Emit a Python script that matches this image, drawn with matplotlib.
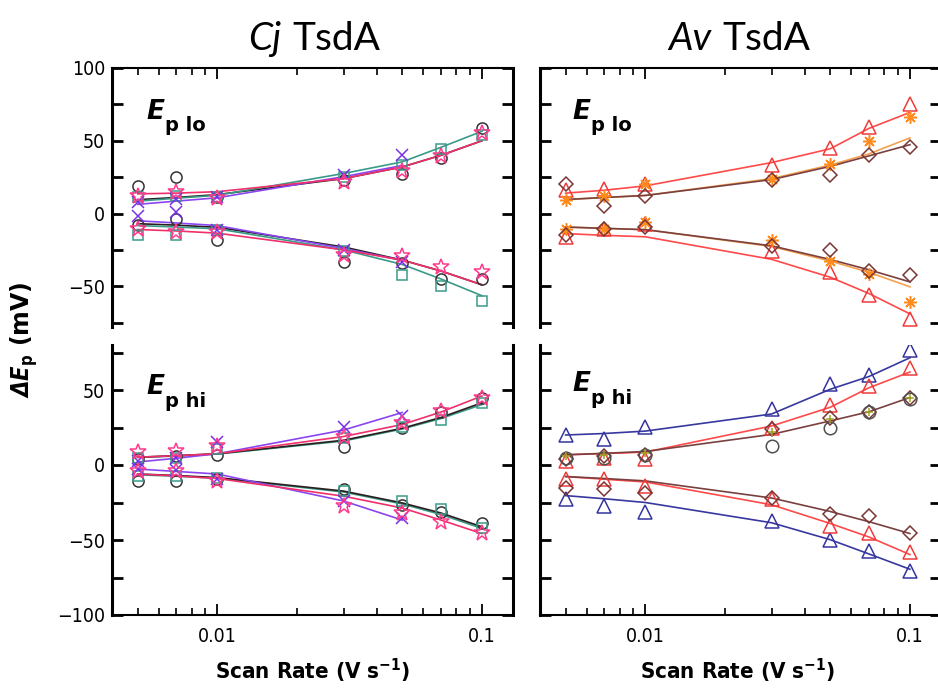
import numpy as np
import matplotlib.pyplot as plt
from matplotlib.ticker import FixedLocator, LogLocator, NullFormatter, FixedFormatter

nan = np.nan

# scan rates (V/s), shared by every series
rate = [0.005, 0.007, 0.01, 0.03, 0.05, 0.07, 0.1]

# ---------------------------------------------------------------------------
# Cj TsdA, Ep lo  (upper = oxidative peak, lower = reductive peak), mV
# ---------------------------------------------------------------------------
cj_lo_circle_up = [19, 25, 11, 23, 27, 38, 59]
cj_lo_circle_dn = [-8, -4, -18.5, -33, -34, -45, -45]
cj_lo_cross_up = [8, 10, 11, 26.5, 40, nan, nan]
cj_lo_cross_dn = [-2, 1, -11.5, -25, -33, nan, nan]
cj_lo_square_up = [11, 12, 11, 25, 33.5, 44, 54]
cj_lo_square_dn = [-15, -15, -11, -26, -42, -50, -60]
cj_lo_star_up = [12, 15, 10.5, 21.5, 29, 39.5, 55]
cj_lo_star_dn = [-10.5, -12.5, -13, -28.5, -29.5, -36.5, -40]

cj_lo_fit_dark_up = [9.5, 11, 13, 24, 32, 40, 50]
cj_lo_fit_dark_dn = [-7, -8, -9.5, -23, -32, -39.5, -49]
cj_lo_fit_purple_up = [6.3, 8.5, 10.8, 25.3, 33, nan, nan]
cj_lo_fit_purple_dn = [-5, -6.5, -8.3, -24, -32.3, nan, nan]
cj_lo_fit_teal_up = [8.5, 10.5, 12.5, 27.5, 35.5, 45.5, 56.5]
cj_lo_fit_teal_dn = [-8.3, -9.3, -10.5, -25, -35, -45, -56.5]
cj_lo_fit_pink_up = [13.5, 14, 15, 24, 32, 40, 50]
cj_lo_fit_pink_dn = [-11, -12, -13.5, -25, -32, -39.5, -49]

# ---------------------------------------------------------------------------
# Cj TsdA, Ep hi
# ---------------------------------------------------------------------------
cj_hi_circle_up = [4, 6, 7, 12, 24.5, 35.5, 44.5]
cj_hi_circle_dn = [-10.5, -10.5, -9.5, -16.3, -26.5, -31, -38.5]
cj_hi_cross_up = [3, 5, 15.5, 25.5, 33, nan, nan]
cj_hi_cross_dn = [-2.7, -3.5, -9.5, -24, -35.5, nan, nan]
cj_hi_square_up = [5, 5, 11, 18, 25.5, 30, 41.5]
cj_hi_square_dn = [-7, -7, -8.5, -17.5, -24, -29.5, -42]
cj_hi_star_up = [8.5, 9.3, 13, 19, 28, 35.7, 45]
cj_hi_star_dn = [-4, -4, -10.5, -27.5, -32, -38, -45.5]

cj_hi_fit_dark_up = [5.2, 6.2, 7.5, 16.5, 24.5, 31.7, 41.5]
cj_hi_fit_dark_dn = [-6, -7, -8.4, -17.4, -25.3, -32, -41.2]
cj_hi_fit_purple_up = [2, 4.5, 7.5, 23.3, 35, nan, nan]
cj_hi_fit_purple_dn = [-2.7, -4.3, -6, -24, -36.7, nan, nan]
cj_hi_fit_teal_up = [5, 6, 7.3, 16, 24, 31, 40.3]
cj_hi_fit_teal_dn = [-6.5, -7.5, -8.8, -18, -26, -33, -42.3]
cj_hi_fit_pink_up = [5.2, 6.2, 7.5, 19, 27, 35.3, 46]
cj_hi_fit_pink_dn = [-6, -7.3, -9, -20.8, -28.7, -36.7, -45.7]

# ---------------------------------------------------------------------------
# Av TsdA, Ep lo
# ---------------------------------------------------------------------------
av_lo_tri_up = [16, 17, 20.5, 33, 45, 59.5, 75.5]
av_lo_tri_dn = [-16, -10.5, -7, -26, -40.5, -56, -72.5]
av_lo_ast_up = [9, 12, 20.5, 23.5, 34, 49.5, 66]
av_lo_ast_dn = [-10.5, -10.5, -6, -18, -32.5, -41.5, -60.5]
av_lo_diam_up = [20.5, 5, 12, 23, 26.5, 40, 46]
av_lo_diam_dn = [-15, -10.5, -9.5, -22.5, -25, -39.5, -42]

av_lo_fit_red_up = [14, 16, 19, 35, 44.5, 58.5, 69.5]
av_lo_fit_red_dn = [-13.8, -15, -16, -31.5, -43.8, -55, -69]
av_lo_fit_orange_up = [9.6, 11, 12.4, 24, 33.3, 41, 52]
av_lo_fit_orange_dn = [-9.3, -10.2, -11.1, -22.7, -32.7, -40.4, -50.4]
av_lo_fit_brown_up = [9.6, 11, 12.4, 23.3, 32.4, 39.6, 47.3]
av_lo_fit_brown_dn = [-9.3, -10.2, -11.1, -22.2, -31.6, -38.7, -47]

# ---------------------------------------------------------------------------
# Av TsdA, Ep hi
# ---------------------------------------------------------------------------
av_hi_blue_up = [20, 17.5, 25.5, 37.5, 54, 60, 76.5]
av_hi_blue_dn = [-22.5, -27.5, -31, -37, -50, -57.5, -70.5]
av_hi_red_up = [3, 5, 4, 24.5, 40, 52.5, 64.5]
av_hi_red_dn = [-9.5, -9.5, -14, -22.5, -40.5, -45, -58]
av_hi_diam_up = [4, 6, 6.5, 24, 31.5, 35.5, 45]
av_hi_diam_dn = [-15, -16, -18.5, -22, -32.5, -34, -45]
av_hi_circle_up = [5, 5, 7, 12.5, 25, 35.5, 44]
av_hi_plus_up = [6, 7, 8, 22, 31, 35.5, 45]

av_hi_fit_blue_up = [20, 21, 22.6, 34, 50.5, 59, 71.5]
av_hi_fit_blue_dn = [-20.4, -22.5, -25, -38.5, -49.8, -59.3, -69.5]
av_hi_fit_red_up = [6.8, 7.6, 8.6, 26, 38.5, 51.5, 62]
av_hi_fit_red_dn = [-7.7, -9.5, -11.3, -26.5, -39, -48, -59.7]
av_hi_fit_brown_up = [6.8, 7.8, 9, 20.4, 29.4, 35.5, 45]
av_hi_fit_brown_dn = [-7.7, -9, -10.6, -22, -31, -37.8, -45.7]

# marker styles
MK = {
    "circle": dict(marker="o", mec="#333333", ms=8),
    "cross": dict(marker="x", mec="#7a30e6", ms=8),
    "square": dict(marker="s", mec="#3a9a8a", ms=7),
    "star": dict(marker="*", mec="#ff3a8c", ms=12),
    "tri_red": dict(marker="^", mec="#f03a3a", ms=10),
    "tri_blue": dict(marker="^", mec="#3535a0", ms=10),
    "ast": dict(marker=(8, 2, 0), mec="#ff8a1e", ms=9),
    "diam": dict(marker="D", mec="#7a3535", ms=7),
    "dkcircle": dict(marker="o", mec="#505050", ms=9),
    "plus": dict(marker="+", mec="#a0a020", ms=6),
}

LINE = {
    "dark": "#2a1e1e",
    "purple": "#8a45f0",
    "teal": "#3a9a88",
    "pink": "#f0306a",
    "red": "#ff4a4a",
    "orange": "#f5a050",
    "brown": "#7a4040",
    "blue": "#3838a0",
}

# tick numbers use the narrow cut of DejaVu Sans
plt.rcParams["font.family"] = "DejaVu Sans"
plt.rcParams["font.stretch"] = "condensed"


def draw_points(ax, vals, kind):
    st = MK[kind]
    ax.plot(rate, vals, ls="none", marker=st["marker"], ms=st["ms"],
            mfc="none", mec=st["mec"], mew=1.1, zorder=3)


def draw_fit(ax, vals, color):
    ax.plot(rate, vals, color=LINE[color], lw=1.2, zorder=2)


def setup_axes(ax, top, show_ylabels):
    ax.set_xscale("log")
    ax.set_xlim(0.004, 0.131)
    if top:
        ax.set_ylim(-78, 100)
        ax.spines["bottom"].set_visible(False)
        major = [-50, 0, 50, 100]
    else:
        ax.set_ylim(-100, 80)
        ax.spines["top"].set_visible(False)
        major = [-100, -50, 0, 50]
    ax.yaxis.set_major_locator(FixedLocator(major))
    ax.yaxis.set_minor_locator(FixedLocator([-75, -25, 25, 75]))
    ax.yaxis.set_major_formatter(
        FixedFormatter(["\u2212" + str(-m) if m < 0 else str(m) for m in major]))
    ax.xaxis.set_major_locator(FixedLocator([0.01, 0.1]))
    ax.xaxis.set_major_formatter(FixedFormatter(["0.01", "0.1"]))
    ax.xaxis.set_minor_locator(LogLocator(base=10, subs=np.arange(2, 10), numticks=10))
    ax.xaxis.set_minor_formatter(NullFormatter())

    for s in ("left", "right"):
        ax.spines[s].set_linewidth(2.2)
    for s in ("top", "bottom"):
        ax.spines[s].set_linewidth(1.5)

    ax.tick_params(axis="y", which="both", direction="in", left=True, right=True,
                   length=8, width=2, labelleft=show_ylabels, labelsize=14, pad=5)
    ax.tick_params(axis="x", which="major", direction="in", top=top, bottom=not top,
                   labeltop=False, labelbottom=not top, length=8, width=1.3,
                   labelsize=14, pad=9)
    ax.tick_params(axis="x", which="minor", direction="in", top=top, bottom=not top,
                   length=5, width=1.2)


def panel_label(ax, sub, x, y):
    e = ax.text(x, y, "E", transform=ax.transAxes, fontsize=19, fontweight="bold",
                fontstyle="italic", fontstretch="normal", va="baseline")
    ax.annotate(sub, xy=(1, 0), xycoords=e, xytext=(1, -5), textcoords="offset points",
                fontsize=14, fontweight="bold", fontstretch="normal", va="baseline")


fig = plt.figure(figsize=(9.38, 6.91), dpi=100)
W, H = 938.0, 691.0
col_x = [112 / W, 540 / W]
col_w = 401 / W
top_box = ((H - 327) / H, 259 / H)
bot_box = ((H - 615) / H, 270 / H)

ax_cj_lo = fig.add_axes([col_x[0], top_box[0], col_w, top_box[1]])
ax_cj_hi = fig.add_axes([col_x[0], bot_box[0], col_w, bot_box[1]])
ax_av_lo = fig.add_axes([col_x[1], top_box[0], col_w, top_box[1]])
ax_av_hi = fig.add_axes([col_x[1], bot_box[0], col_w, bot_box[1]])

# Cj TsdA, Ep lo
ax = ax_cj_lo
for up, dn, c in [(cj_lo_fit_dark_up, cj_lo_fit_dark_dn, "dark"),
                  (cj_lo_fit_teal_up, cj_lo_fit_teal_dn, "teal"),
                  (cj_lo_fit_purple_up, cj_lo_fit_purple_dn, "purple"),
                  (cj_lo_fit_pink_up, cj_lo_fit_pink_dn, "pink")]:
    draw_fit(ax, up, c)
    draw_fit(ax, dn, c)
for up, dn, k in [(cj_lo_circle_up, cj_lo_circle_dn, "circle"),
                  (cj_lo_square_up, cj_lo_square_dn, "square"),
                  (cj_lo_cross_up, cj_lo_cross_dn, "cross"),
                  (cj_lo_star_up, cj_lo_star_dn, "star")]:
    draw_points(ax, up, k)
    draw_points(ax, dn, k)

# Cj TsdA, Ep hi
ax = ax_cj_hi
for up, dn, c in [(cj_hi_fit_teal_up, cj_hi_fit_teal_dn, "teal"),
                  (cj_hi_fit_dark_up, cj_hi_fit_dark_dn, "dark"),
                  (cj_hi_fit_purple_up, cj_hi_fit_purple_dn, "purple"),
                  (cj_hi_fit_pink_up, cj_hi_fit_pink_dn, "pink")]:
    draw_fit(ax, up, c)
    draw_fit(ax, dn, c)
for up, dn, k in [(cj_hi_circle_up, cj_hi_circle_dn, "circle"),
                  (cj_hi_square_up, cj_hi_square_dn, "square"),
                  (cj_hi_cross_up, cj_hi_cross_dn, "cross"),
                  (cj_hi_star_up, cj_hi_star_dn, "star")]:
    draw_points(ax, up, k)
    draw_points(ax, dn, k)

# Av TsdA, Ep lo
ax = ax_av_lo
for up, dn, c in [(av_lo_fit_red_up, av_lo_fit_red_dn, "red"),
                  (av_lo_fit_orange_up, av_lo_fit_orange_dn, "orange"),
                  (av_lo_fit_brown_up, av_lo_fit_brown_dn, "brown")]:
    draw_fit(ax, up, c)
    draw_fit(ax, dn, c)
for up, dn, k in [(av_lo_tri_up, av_lo_tri_dn, "tri_red"),
                  (av_lo_ast_up, av_lo_ast_dn, "ast"),
                  (av_lo_diam_up, av_lo_diam_dn, "diam")]:
    draw_points(ax, up, k)
    draw_points(ax, dn, k)

# Av TsdA, Ep hi
ax = ax_av_hi
for up, dn, c in [(av_hi_fit_blue_up, av_hi_fit_blue_dn, "blue"),
                  (av_hi_fit_red_up, av_hi_fit_red_dn, "red"),
                  (av_hi_fit_brown_up, av_hi_fit_brown_dn, "brown")]:
    draw_fit(ax, up, c)
    draw_fit(ax, dn, c)
for up, dn, k in [(av_hi_blue_up, av_hi_blue_dn, "tri_blue"),
                  (av_hi_red_up, av_hi_red_dn, "tri_red"),
                  (av_hi_diam_up, av_hi_diam_dn, "diam")]:
    draw_points(ax, up, k)
    draw_points(ax, dn, k)
draw_points(ax, av_hi_circle_up, "dkcircle")
draw_points(ax, av_hi_plus_up, "plus")

setup_axes(ax_cj_lo, top=True, show_ylabels=True)
setup_axes(ax_cj_hi, top=False, show_ylabels=True)
setup_axes(ax_av_lo, top=True, show_ylabels=False)
setup_axes(ax_av_hi, top=False, show_ylabels=False)

panel_label(ax_cj_lo, "p lo", 0.085, 0.805)
panel_label(ax_av_lo, "p lo", 0.08, 0.805)
panel_label(ax_cj_hi, "p hi", 0.085, 0.82)
panel_label(ax_av_hi, "p hi", 0.08, 0.83)

# column titles: italic organism abbreviation, then the protein name on the same baseline
title_y = 1 - 50 / H
for x_org, x_name, org in [(248 / W, 292 / W, "Cj"), (668 / W, 722 / W, "Av")]:
    fig.text(x_org, title_y, org, fontsize=28, fontstyle="italic", family="Lato",
             fontstretch="normal", va="baseline")
    fig.text(x_name, title_y, "TsdA", fontsize=28, family="Lato",
             fontstretch="normal", va="baseline")

# axis titles
for xc in (313 / W, 738 / W):
    fig.text(xc, 1 - 671 / H, r"Scan Rate (V s$^{\mathbf{-1}}$)", fontsize=16,
             fontweight="bold", ha="center", va="center")
fig.text(24 / W, 1 - 340 / H, r"$\mathbfit{\Delta E}_{\mathbf{p}}$ (mV)", fontsize=17,
         fontweight="bold", fontstretch="normal", rotation=90, ha="center", va="center")

fig.savefig("out.png", dpi=100)
